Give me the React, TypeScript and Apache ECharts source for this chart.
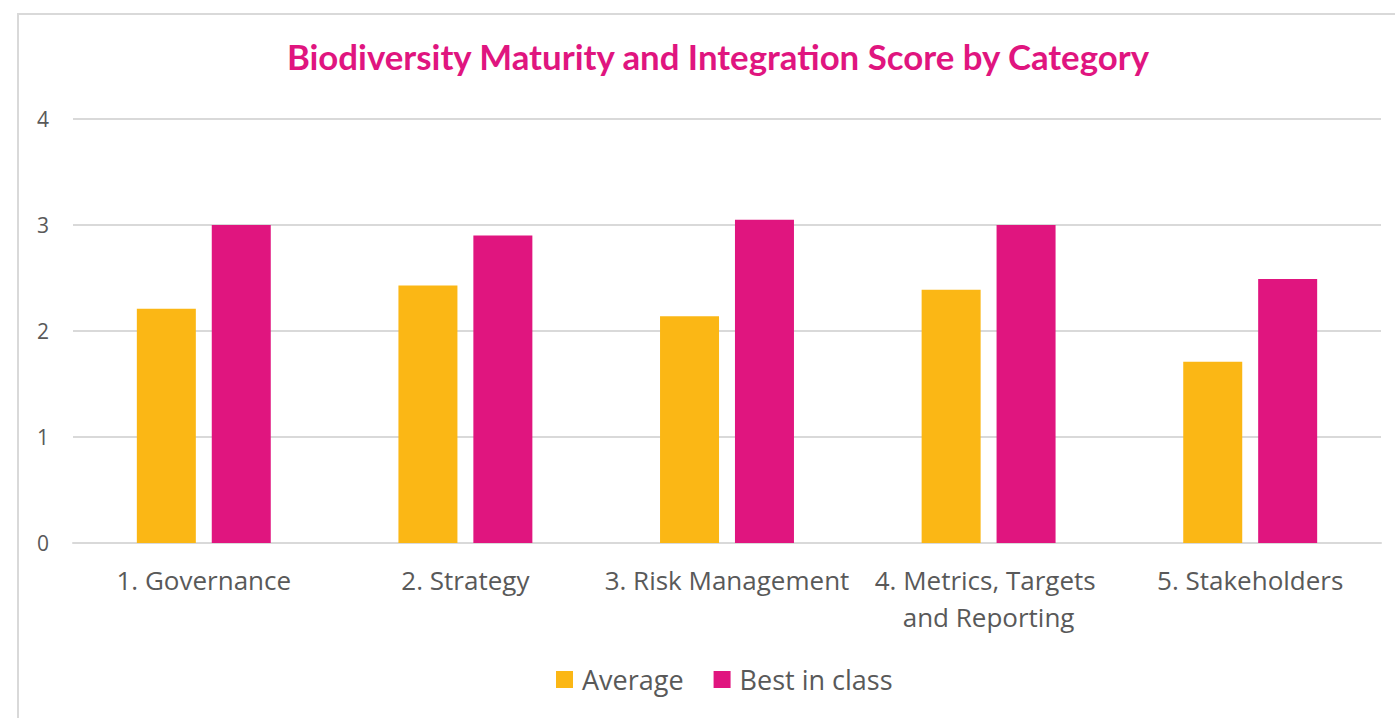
import React, { useEffect, useRef } from "react";
import * as echarts from "echarts";

const categories = [
  "1. Governance",
  "2. Strategy",
  "3. Risk Management",
  "4. Metrics, Targets and Reporting",
  "5. Stakeholders",
];
const averageValues = [2.21, 2.43, 2.14, 2.39, 1.71];
const bestInClassValues = [3.0, 2.9, 3.05, 3.0, 2.49];
const yTicks = { min: 0, max: 4, interval: 1 };

export default function App() {
  const ref = useRef<HTMLDivElement>(null);
  useEffect(() => {
    const chart = echarts.init(ref.current!, null, { renderer: "svg" });
    const labelColor = "#595959";
    chart.setOption({
      animation: false,
      backgroundColor: "#ffffff",
      graphic: [
        {
          type: "rect",
          shape: { x: 18, y: 14, width: 1400, height: 720 },
          style: { fill: "none", stroke: "#d9d9d9", lineWidth: 2 },
          silent: true,
          z: -1,
        },
      ],
      title: {
        text: "Biodiversity Maturity and Integration Score by Category",
        left: 713,
        textAlign: "center",
        top: 34,
        textStyle: {
          color: "#E0157F",
          fontFamily: "Lato",
          fontWeight: "bold",
          fontSize: 34.8,
        },
      },
      legend: {
        bottom: 20,
        left: 551,
        itemWidth: 17,
        itemHeight: 17,
        itemGap: 30,
        icon: "rect",
        textStyle: {
          color: labelColor,
          fontSize: 27,
          fontFamily: "Open Sans",
          padding: [0, 0, 0, 4],
        },
        data: ["Average", "Best in class"],
      },
      grid: { left: 73, right: 14, top: 119, bottom: 175, containLabel: false },
      xAxis: {
        type: "category",
        data: categories,
        axisLine: { lineStyle: { color: "#d9d9d9", width: 2 } },
        axisTick: { show: false },
        axisLabel: {
          color: labelColor,
          fontSize: 26,
          fontFamily: "Open Sans",
          margin: 18,
          width: 245,
          overflow: "break",
          lineHeight: 37,
          interval: 0,
        },
      },
      yAxis: {
        type: "value",
        min: yTicks.min,
        max: yTicks.max,
        interval: yTicks.interval,
        axisLine: { show: false },
        axisTick: { show: false },
        splitLine: { lineStyle: { color: "#d9d9d9", width: 2 } },
        axisLabel: {
          color: labelColor,
          fontSize: 21,
          fontFamily: "Open Sans",
          margin: 24,
        },
      },
      series: [
        {
          name: "Average",
          type: "bar",
          data: averageValues,
          barWidth: 59,
          barGap: "27%",
          itemStyle: { color: "#FBB715" },
        },
        {
          name: "Best in class",
          type: "bar",
          data: bestInClassValues,
          barWidth: 59,
          itemStyle: { color: "#E0157F" },
        },
      ],
    });
    return () => chart.dispose();
  }, []);
  return (
    <div
      ref={ref}
      style={{ position: "fixed", left: 0, top: 0, width: 1395, height: 718 }}
    />
  );
}
